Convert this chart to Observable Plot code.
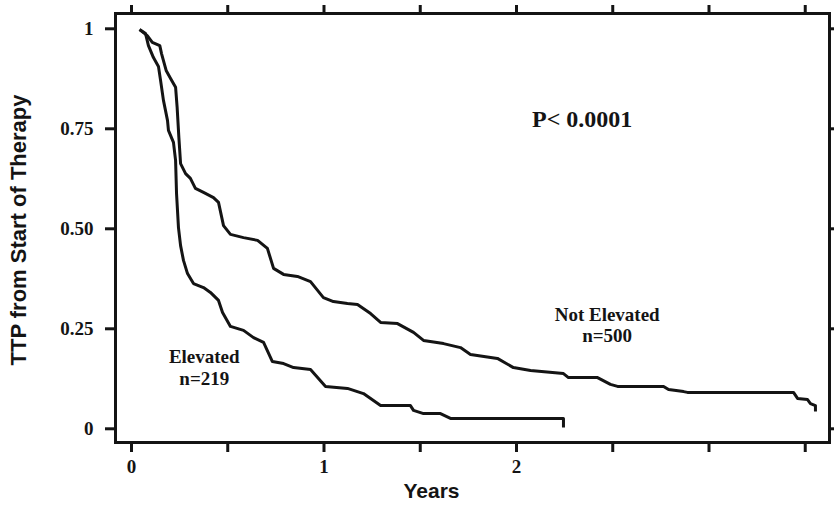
<!DOCTYPE html>
<html>
<head>
<meta charset="utf-8">
<script src="https://cdn.jsdelivr.net/npm/d3@7"></script>
<script src="https://cdn.jsdelivr.net/npm/@observablehq/plot@0.6"></script>
<style>
  html, body { margin: 0; padding: 0; background: #fff; }
  #chart svg { display: block; }
</style>
</head>
<body>
<div id="chart"></div>
<script>
// Not Elevated group (n=500): years, TTP fraction
const yearsNotElevated = [0.042,0.082,0.108,0.147,0.156,0.180,0.203,0.229,0.237,0.246,0.255,0.281,0.306,0.332,0.374,0.426,0.452,0.478,0.514,0.582,0.655,0.706,0.738,0.790,0.862,0.930,0.997,1.049,1.122,1.174,1.242,1.294,1.382,1.465,1.517,1.621,1.709,1.761,1.901,1.984,2.073,2.244,2.270,2.421,2.488,2.525,2.764,2.790,2.868,2.888,3.439,3.460,3.512,3.527,3.553,3.553];
const ttpNotElevated   = [0.998,0.983,0.966,0.958,0.938,0.896,0.876,0.854,0.804,0.729,0.663,0.638,0.626,0.601,0.591,0.578,0.566,0.508,0.486,0.478,0.471,0.451,0.401,0.386,0.381,0.368,0.328,0.318,0.313,0.311,0.288,0.266,0.263,0.241,0.221,0.213,0.203,0.186,0.176,0.153,0.146,0.138,0.128,0.128,0.111,0.106,0.106,0.098,0.093,0.091,0.091,0.076,0.073,0.063,0.058,0.043];

// Elevated group (n=219)
const yearsElevated = [0.042,0.073,0.088,0.114,0.140,0.151,0.166,0.187,0.192,0.218,0.229,0.234,0.244,0.255,0.270,0.291,0.322,0.374,0.410,0.452,0.473,0.514,0.582,0.634,0.686,0.732,0.790,0.842,0.930,1.008,1.122,1.205,1.294,1.449,1.465,1.517,1.605,1.657,2.244,2.244];
const ttpElevated   = [0.998,0.988,0.958,0.928,0.906,0.871,0.821,0.771,0.746,0.716,0.671,0.588,0.503,0.458,0.421,0.388,0.363,0.353,0.341,0.321,0.291,0.256,0.246,0.228,0.216,0.168,0.163,0.153,0.148,0.106,0.101,0.088,0.058,0.058,0.046,0.038,0.038,0.026,0.026,0.003];

// Axis ticks and labels
const xTicks = [0, 0.5, 1, 1.5, 2, 2.5, 3, 3.5];
const xTickLabels = ["0", "", "1", "", "2", "", "", ""];
const yTicks = [0, 0.25, 0.5, 0.75, 1];
const yTickLabels = ["0", "0.25", "0.50", "0.75", "1"];

const xTitle = "Years";
const yTitle = "TTP from Start of Therapy";

// Annotations (in data coordinates)
const annotationText = ["P< 0.0001", "Not Elevated\nn=500", "Elevated\nn=219"];
const annotationX = [2.341, 2.471, 0.378];
const annotationY = [0.776, 0.261, 0.154];
const annotationSize = [24, 19, 19];

const curves = [
  ...yearsNotElevated.map((x, i) => ({group: "Not Elevated", x, y: ttpNotElevated[i]})),
  ...yearsElevated.map((x, i) => ({group: "Elevated", x, y: ttpElevated[i]}))
];
const annotations = annotationText.map((t, i) => ({t, x: annotationX[i], y: annotationY[i], s: annotationSize[i]}));

const ink = "#141414";
const serif = "'Liberation Serif', 'Times New Roman', serif";
const sans = "'Liberation Sans', Arial, sans-serif";

const chart = Plot.plot({
  width: 834,
  height: 509,
  marginLeft: 115,
  marginRight: 5,
  marginTop: 13,
  marginBottom: 67,
  style: {background: "#fff", color: ink},
  x: {domain: [-0.0831, 3.626]},
  y: {domain: [-0.03425, 1.03825]},
  marks: [
    Plot.frame({stroke: ink, strokeWidth: 3}),
    Plot.axisY({anchor: "left", ticks: yTicks, tickFormat: (d, i) => yTickLabels[yTicks.indexOf(d)], tickSize: 10, tickPadding: 12, strokeWidth: 3, stroke: ink, fill: ink, fontSize: 19, fontFamily: serif, fontWeight: "bold", label: null}),
    Plot.axisY({anchor: "right", ticks: yTicks, tickFormat: () => "", tickSize: 10, strokeWidth: 3, stroke: ink, label: null}),
    Plot.axisX({anchor: "bottom", ticks: xTicks, tickFormat: (d) => xTickLabels[xTicks.indexOf(d)], tickSize: 10, tickPadding: 7, strokeWidth: 3, stroke: ink, fill: ink, fontSize: 19, fontFamily: serif, fontWeight: "bold", label: null}),
    Plot.axisX({anchor: "top", ticks: xTicks, tickFormat: () => "", tickSize: 9, strokeWidth: 3, stroke: ink, label: null}),
    Plot.line(curves, {x: "x", y: "y", z: "group", stroke: ink, strokeWidth: 3, strokeLinejoin: "round", strokeLinecap: "butt"}),
    Plot.text(annotations, {x: "x", y: "y", text: "t", fontSize: (d) => d.s, fontFamily: serif, fontWeight: "bold", fill: ink, lineHeight: 1.12}),
    Plot.text([xTitle], {frameAnchor: "bottom", dx: -41, dy: 55, fontSize: 21, fontFamily: sans, fontWeight: "bold", fill: ink}),
    Plot.text([yTitle], {frameAnchor: "left", textAnchor: "middle", rotate: -90, dx: -97, dy: 2, fontSize: 22, fontFamily: sans, fontWeight: "bold", fill: ink})
  ]
});
document.getElementById("chart").append(chart);
</script>
</body>
</html>
